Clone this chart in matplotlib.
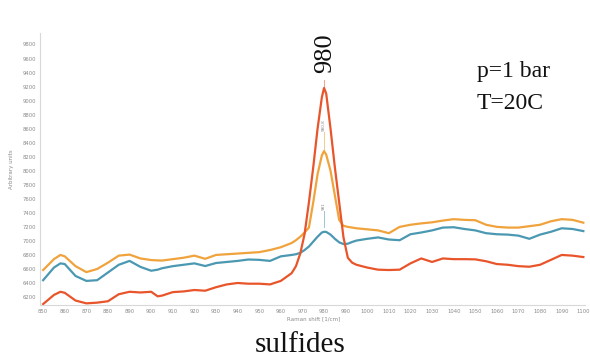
import matplotlib
matplotlib.use("Agg")
import matplotlib.pyplot as plt

# Raman shift (1/cm)
shift = [850, 855, 858, 860, 865, 870, 875, 880, 885, 890, 895, 900, 903, 905, 910,
         915, 920, 925, 930, 935, 940, 945, 950, 955, 960, 965, 967, 969, 971, 973,
         975, 977, 979, 980, 981, 983, 985, 987, 989, 991, 993, 995, 1000, 1005, 1010,
         1015, 1020, 1025, 1030, 1035, 1040, 1045, 1050, 1055, 1060, 1065, 1070, 1075,
         1080, 1085, 1090, 1095, 1100]

orange = [6585, 6740, 6800, 6780, 6640, 6555, 6600, 6690, 6790, 6805, 6750, 6727, 6722, 6720, 6740,
          6760, 6790, 6745, 6800, 6810, 6820, 6830, 6840, 6870, 6910, 6970, 7010, 7060, 7120, 7190,
          7550, 7950, 8220, 8280, 8230, 8000, 7650, 7300, 7215, 7200, 7190, 7180, 7165, 7150, 7110,
          7200, 7230, 7250, 7265, 7290, 7310, 7300, 7295, 7230, 7200, 7190, 7190, 7210,
          7230, 7280, 7310, 7300, 7260]

blue = [6440, 6620, 6680, 6670, 6500, 6430, 6440, 6550, 6660, 6715, 6630, 6575, 6590, 6610, 6640,
        6660, 6680, 6642, 6685, 6700, 6715, 6735, 6730, 6715, 6780, 6800, 6810, 6830, 6870, 6920,
        6990, 7060, 7120, 7130, 7128, 7090, 7030, 6980, 6955, 6960, 6985, 7005, 7030, 7050, 7020,
        7010, 7095, 7120, 7150, 7190, 7195, 7170, 7150, 7110, 7095, 7090, 7075, 7030,
        7090, 7130, 7180, 7170, 7140]

red = [6100, 6230, 6275, 6260, 6150, 6110, 6120, 6140, 6240, 6275, 6265, 6275, 6210, 6220, 6270,
       6280, 6300, 6290, 6340, 6380, 6400, 6390, 6390, 6380, 6430, 6540, 6640, 6820, 7100, 7550,
       8050, 8600, 9050, 9180, 9100, 8600, 8050, 7550, 7050, 6760, 6690, 6660, 6620, 6590, 6585,
       6590, 6680, 6750, 6700, 6750, 6740, 6740, 6737, 6710, 6670, 6660, 6640, 6632,
       6660, 6730, 6800, 6790, 6770]

x_ticks = list(range(850, 1101, 10))
y_ticks = list(range(6200, 9801, 200))

peak_pos = 980
orange_peak_label = "980.8"
blue_peak_label = "981"

fig = plt.figure(figsize=(5.9, 3.64), dpi=100)
ax = fig.add_axes([0.068, 0.162, 0.924, 0.747])

c_orange = "#f0a33c"
c_blue = "#4b98b2"
c_red = "#e9552b"
ax.plot(shift, orange, color=c_orange, lw=1.6, zorder=3)
ax.plot(shift, blue, color=c_blue, lw=1.6, zorder=3)
ax.plot(shift, red, color=c_red, lw=1.6, zorder=4)

ax.set_xlim(848.6, 1100.9)
ax.set_ylim(6086, 9962)
ax.set_xticks(x_ticks)
ax.set_yticks(y_ticks)
ax.tick_params(axis="both", length=0, labelsize=3.8, colors="#8a8a8a", pad=3)
for s in ["top", "right"]:
    ax.spines[s].set_visible(False)
for s in ["left", "bottom"]:
    ax.spines[s].set_color("#d8d8d8")
    ax.spines[s].set_linewidth(0.8)

ax.set_ylabel("Arbitrary units", fontsize=4, color="#8a8a8a", labelpad=6)
ax.text(975, 5920, "Raman shift [1/cm]", fontsize=4, color="#8a8a8a", ha="center", va="top")

# peak annotation stems
ax.plot([peak_pos, peak_pos], [max(red), max(red) + 110], color="#f2a08a", lw=0.7, zorder=2)
ax.plot([peak_pos, peak_pos], [max(orange), max(orange) + 270], color="#f5c98a", lw=0.7, zorder=2)
ax.text(peak_pos, max(orange) + 280, orange_peak_label, rotation=90, fontsize=3, color="#888888",
        ha="center", va="bottom")
ax.plot([peak_pos, peak_pos], [max(blue), max(blue) + 230], color="#9cc8d6", lw=0.7, zorder=2)
ax.text(peak_pos, max(blue) + 240, blue_peak_label, rotation=90, fontsize=3, color="#888888",
        ha="center", va="bottom")

serif = ["Liberation Serif", "DejaVu Serif"]
fig.text(325 / 590, 1 - 53 / 364, "980", rotation=90, fontsize=19, family=serif,
         ha="center", va="center", color="#111111")
fig.text(477 / 590, 1 - 77 / 364, "p=1 bar", fontsize=17, family=serif, ha="left",
         va="baseline", color="#111111")
fig.text(477 / 590, 1 - 109 / 364, "T=20C", fontsize=17, family=serif, ha="left",
         va="baseline", color="#111111")
fig.text(300 / 590, 1 - 352 / 364, "sulfides", fontsize=21, family=serif, ha="center",
         va="baseline", color="#111111")

fig.savefig("out.png", dpi=100, facecolor="white")
